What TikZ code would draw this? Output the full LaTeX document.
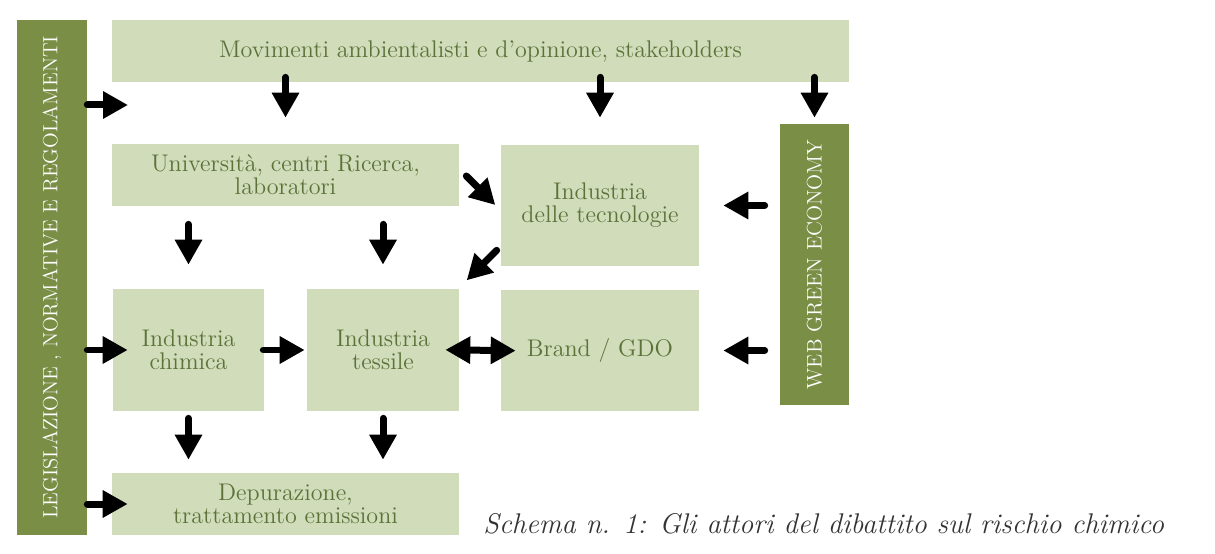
\documentclass[tikz,border=0pt]{standalone}
\usetikzlibrary{arrows.meta}

\definecolor{bargreen}{RGB}{122,142,69}
\definecolor{boxgreen}{RGB}{208,220,186}
\definecolor{txtgreen}{RGB}{92,114,56}

\begin{document}
\begin{tikzpicture}[x=0.02cm, y=-0.02cm, >={Triangle[length=0.5cm, width=0.52cm]},
  box/.style={fill=boxgreen, text=txtgreen, align=center, inner sep=0pt,
    font=\fontsize{13.7}{13.2}\selectfont},
  bar/.style={fill=bargreen, inner sep=0pt},
  barlabel/.style={text=white, rotate=90, font=\fontsize{11.7}{12}\selectfont},
  arr/.style={->, line width=0.14cm, line cap=round}]

\useasboundingbox (0,0) rectangle (1215,554);

% side bars
\node[bar, minimum width=1.4cm, minimum height=10.3cm] (leg) at (52,277.5) {};
\node[barlabel] (leglbl) at (leg) {LEGISLAZIONE , NORMATIVE E REGOLAMENTI};
\node[bar, minimum width=1.38cm, minimum height=5.62cm] (web) at (814.5,264.5) {};
\node[barlabel, font=\fontsize{12}{12}\selectfont] (weblbl) at (web) {WEB GREEN ECONOMY};

% boxes
\node[box, minimum width=14.74cm, minimum height=1.24cm] (mov) at (480.5,51) {Movimenti ambientalisti e d'opinione, stakeholders};
\node[box, minimum width=6.94cm, minimum height=1.24cm] (uni) at (285.5,175) {Università, centri Ricerca,\\laboratori};
\node[box, minimum width=3.96cm, minimum height=2.42cm] (tech) at (600,205.5) {Industria\\delle tecnologie};
\node[box, minimum width=3.02cm, minimum height=2.44cm] (chim) at (188.5,350) {Industria\\chimica};
\node[box, minimum width=3.04cm, minimum height=2.44cm] (tess) at (383,350) {Industria\\tessile};
\node[box, minimum width=3.96cm, minimum height=2.42cm] (brand) at (600,350.5) {Brand / GDO};
\node[box, minimum width=6.94cm, minimum height=1.24cm] (dep) at (285.5,504) {Depurazione,\\trattamento emissioni};

\node[anchor=west, inner sep=0pt, text=black!80, font=\fontsize{16.2}{16.2}\selectfont\itshape] (caption) at (483,524) {Schema n. 1: Gli attori del dibattito sul rischio chimico};

% arrows
\coordinate (gap) at (128,105);
\draw[arr] (leg.east |- gap) -- (gap);
\draw[arr, shorten >=-0.3cm] (leg.east |- chim.west) -- (chim.west);
\draw[arr, shorten >=-0.32cm] (leg.east |- dep.west) -- (dep.west);

\draw[arr, shorten <=-0.1cm, shorten >=0.52cm] (mov.south -| uni.north) -- (uni.north);
\draw[arr, shorten <=-0.1cm, shorten >=0.54cm] (mov.south -| tech.north) -- (tech.north);
\draw[arr, shorten <=-0.1cm, shorten >=0.12cm] (mov.south -| web.north) -- (web.north);

\draw[arr, shorten <=0.36cm, shorten >=0.48cm] (uni.south -| chim.north) -- (chim.north);
\draw[arr, shorten <=0.36cm, shorten >=0.48cm] (uni.south -| tess.north) -- (tess.north);
\draw[arr] ([shift={(7,1)}]uni.east) -- ([shift={(36,30)}]uni.east);
\draw[arr] ([shift={(-4,-16)}]tech.south west) -- ([shift={(-34,14)}]tech.south west);

\draw[arr, shorten <=0.3cm, shorten >=0.48cm] (web.west |- tech.east) -- (tech.east);
\draw[arr, shorten <=0.3cm, shorten >=0.48cm] (web.west |- brand.east) -- (brand.east);

\draw[arr, shorten <=-0.02cm, shorten >=0.04cm] (chim.east) -- (tess.west);
\draw[arr, <->, shorten <=-0.28cm, shorten >=-0.3cm] (tess.east) -- (brand.west);

\draw[arr, shorten <=0.14cm, shorten >=0.26cm] (chim.south) -- (chim.south |- dep.north);
\draw[arr, shorten <=0.14cm, shorten >=0.26cm] (tess.south) -- (tess.south |- dep.north);

\end{tikzpicture}
\end{document}
